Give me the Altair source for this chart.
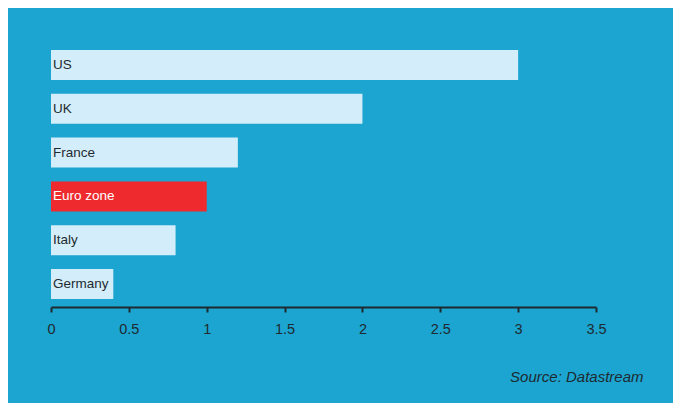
import altair as alt
import pandas as pd

countries = ["US", "UK", "France", "Euro zone", "Italy", "Germany"]
values = [3.0, 2.0, 1.2, 1.0, 0.8, 0.4]
highlight = [False, False, False, True, False, False]
x_ticks = [0, 0.5, 1, 1.5, 2, 2.5, 3, 3.5]
source_text = "Source: Datastream"

BG = "#1ba5d0"
LIGHT = "#d3eefa"
RED = "#ee2a2f"
DARK = "#1f2a30"

df = pd.DataFrame({"country": countries, "value": values, "highlight": highlight})

y_enc = alt.Y(
    "country:N",
    sort=countries,
    axis=None,
    scale=alt.Scale(paddingInner=0.315, paddingOuter=0.183),
)

x_enc = alt.X(
    "value:Q",
    scale=alt.Scale(domain=[0, 3.5], nice=False, zero=True),
    axis=alt.Axis(
        values=x_ticks,
        format="~g",
        title=source_text,
        grid=False,
        domainColor=DARK,
        domainWidth=2,
        tickColor=DARK,
        tickWidth=2,
        tickSize=5,
        labelFont="Liberation Sans",
        labelFontSize=14.5,
        labelColor=DARK,
        labelPadding=10,
        labelFlush=False,
        titleFont="Liberation Sans",
        titleFontStyle="italic",
        titleFontWeight="normal",
        titleFontSize=15,
        titleColor=DARK,
        titleAlign="right",
        titleBaseline="alphabetic",
        titleX=592,
        titleY=74,
    ),
)

bars = alt.Chart(df).mark_bar().encode(
    x=x_enc,
    y=y_enc,
    color=alt.condition("datum.highlight", alt.value(RED), alt.value(LIGHT)),
)

labels = alt.Chart(df).mark_text(
    align="left", baseline="middle", dx=2, font="Liberation Sans", fontSize=13.5
).encode(
    x=alt.datum(0),
    y=y_enc,
    text="country:N",
    color=alt.condition("datum.highlight", alt.value("#ffffff"), alt.value(DARK)),
)

chart = (
    alt.layer(bars, labels)
    .properties(
        width=545,
        height=265,
        padding={"left": 43, "top": 34, "right": 77, "bottom": 96},
        autosize=alt.AutoSizeParams(type="none"),
        background=BG,
    )
    .configure_view(stroke=None)
)

chart.save("out.html", embed_options={"renderer": "svg", "actions": False})
